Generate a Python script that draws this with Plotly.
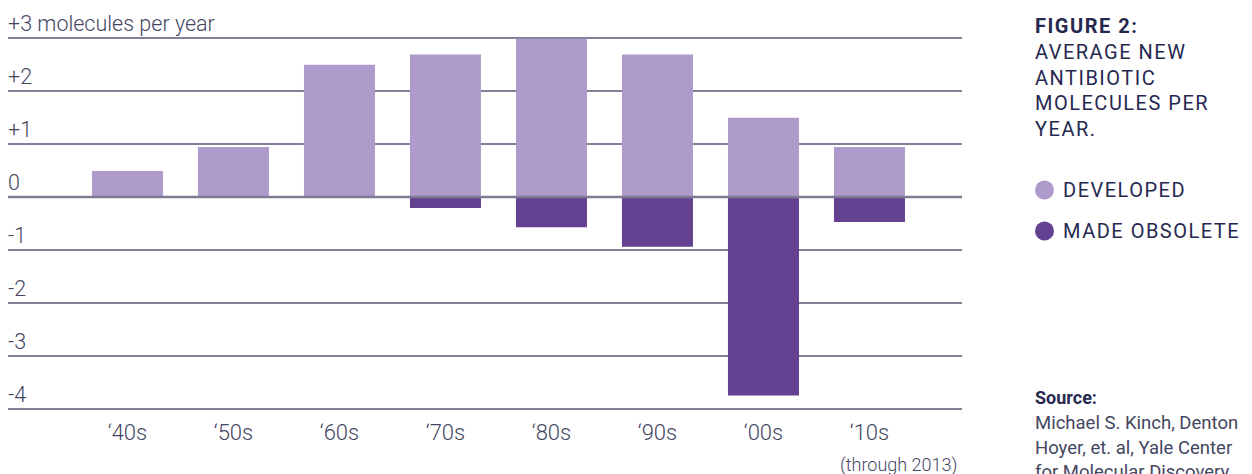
import plotly.graph_objects as go

decades = ["\u201840s", "\u201850s", "\u201860s", "\u201870s", "\u201880s", "\u201890s", "\u201800s", "\u201810s"]
developed = [0.49, 0.94, 2.49, 2.68, 2.98, 2.68, 1.49, 0.94]
obsolete = [0, 0, 0, -0.21, -0.57, -0.94, -3.74, -0.47]
y_ticks = [3, 2, 1, 0, -1, -2, -3, -4]
y_labels = ["+3 molecules per year", "+2", "+1", "0", "-1", "-2", "-3", "-4"]
title_lines = ["<b>FIGURE 2:</b>", "AVERAGE NEW", "ANTIBIOTIC", "MOLECULES PER", "YEAR."]
legend_names = ["DEVELOPED", "MADE OBSOLETE"]
source_lines = ["<b>Source:</b>", "Michael S. Kinch, Denton", "Hoyer, et. al, Yale Center",
                "for Molecular Discovery"]

LIGHT = "#AE9BCB"
DARK = "#654191"
TEXT = "#44465F"
NAVY = "#262850"
GRID = "#827F99"

W, H = 1252, 474
ML, MR, MT, MB = 0, 298, 28, 71
PW, PH = W - ML - MR, H - MT - MB
OFF = 8  # page body margin


def px_x(sx):
    return (sx - OFF - ML) / PW


def px_y(sy):
    return (H - (sy - OFF) - MB) / PH


fig = go.Figure()
fig.add_trace(go.Bar(x=decades, y=developed, marker=dict(color=LIGHT, line=dict(width=0)),
                     width=0.67, name=legend_names[0], showlegend=False, hoverinfo="skip"))
fig.add_trace(go.Bar(x=decades, y=obsolete, marker=dict(color=DARK, line=dict(width=0)),
                     width=0.67, name=legend_names[1], showlegend=False, hoverinfo="skip"))

fig.update_layout(
    width=W, height=H,
    margin=dict(l=ML, r=MR, t=MT, b=MB),
    barmode="relative",
    paper_bgcolor="white", plot_bgcolor="white",
    font=dict(family="Roboto", color=TEXT),
    xaxis=dict(type="category", range=[-1.127, 7.873], showgrid=False, zeroline=False,
               showline=False, ticks="", tickfont=dict(size=22, color=TEXT, weight=300),
               ticklabelstandoff=6),
    yaxis=dict(range=[-4.03, 3.03], tickvals=y_ticks, showticklabels=False, showgrid=True,
               gridcolor=GRID, gridwidth=1.5, zeroline=False, showline=False),
)

fig.add_shape(type="line", xref="paper", yref="y", x0=0, x1=1, y0=0, y1=0,
              line=dict(color="#7E7B92", width=2.5), layer="above")

for v, lab in zip(y_ticks, y_labels):
    fig.add_annotation(x=0, xref="paper", y=v, yref="y", text=lab, showarrow=False,
                       xanchor="left", yanchor="bottom", yshift=0, xshift=-2,
                       font=dict(size=21.5, color=TEXT, weight=300))

fig.add_annotation(x=px_x(959), xref="paper", y=px_y(465), yref="paper", text="(through 2013)",
                   showarrow=False, xanchor="right", yanchor="middle",
                   font=dict(size=18, color=TEXT, weight=300))

SP = "<span style='letter-spacing:1.5px'>{}</span>"

# Side title
for t, sy in zip(title_lines, [26, 52, 77.5, 103, 128.5]):
    fig.add_annotation(x=px_x(1033), xref="paper", y=px_y(sy), yref="paper", showarrow=False,
                       text=SP.format(t), xanchor="left", yanchor="middle", align="left",
                       font=dict(size=20, color=NAVY))

# Legend
for name, col, sy in zip(legend_names, [LIGHT, DARK], [190, 231]):
    fig.add_shape(type="circle", xref="paper", yref="paper",
                  xsizemode="pixel", ysizemode="pixel",
                  xanchor=px_x(1044.5), yanchor=px_y(sy),
                  x0=-9.5, x1=9.5, y0=-9.5, y1=9.5,
                  fillcolor=col, line=dict(width=0))
    fig.add_annotation(x=px_x(1061), xref="paper", y=px_y(sy), yref="paper", showarrow=False,
                       text=SP.format(name), xanchor="left", yanchor="middle", align="left",
                       font=dict(size=20, color=NAVY))

# Source
for i, (t, sy) in enumerate(zip(source_lines, [397.5, 422.5, 447.5, 472.5])):
    fig.add_annotation(x=px_x(1033), xref="paper", y=px_y(sy), yref="paper", showarrow=False,
                       text=t, xanchor="left", yanchor="middle", align="left",
                       font=dict(size=18.5 if i else 18, color=NAVY if i == 0 else TEXT))

fig.write_html("out.html")
